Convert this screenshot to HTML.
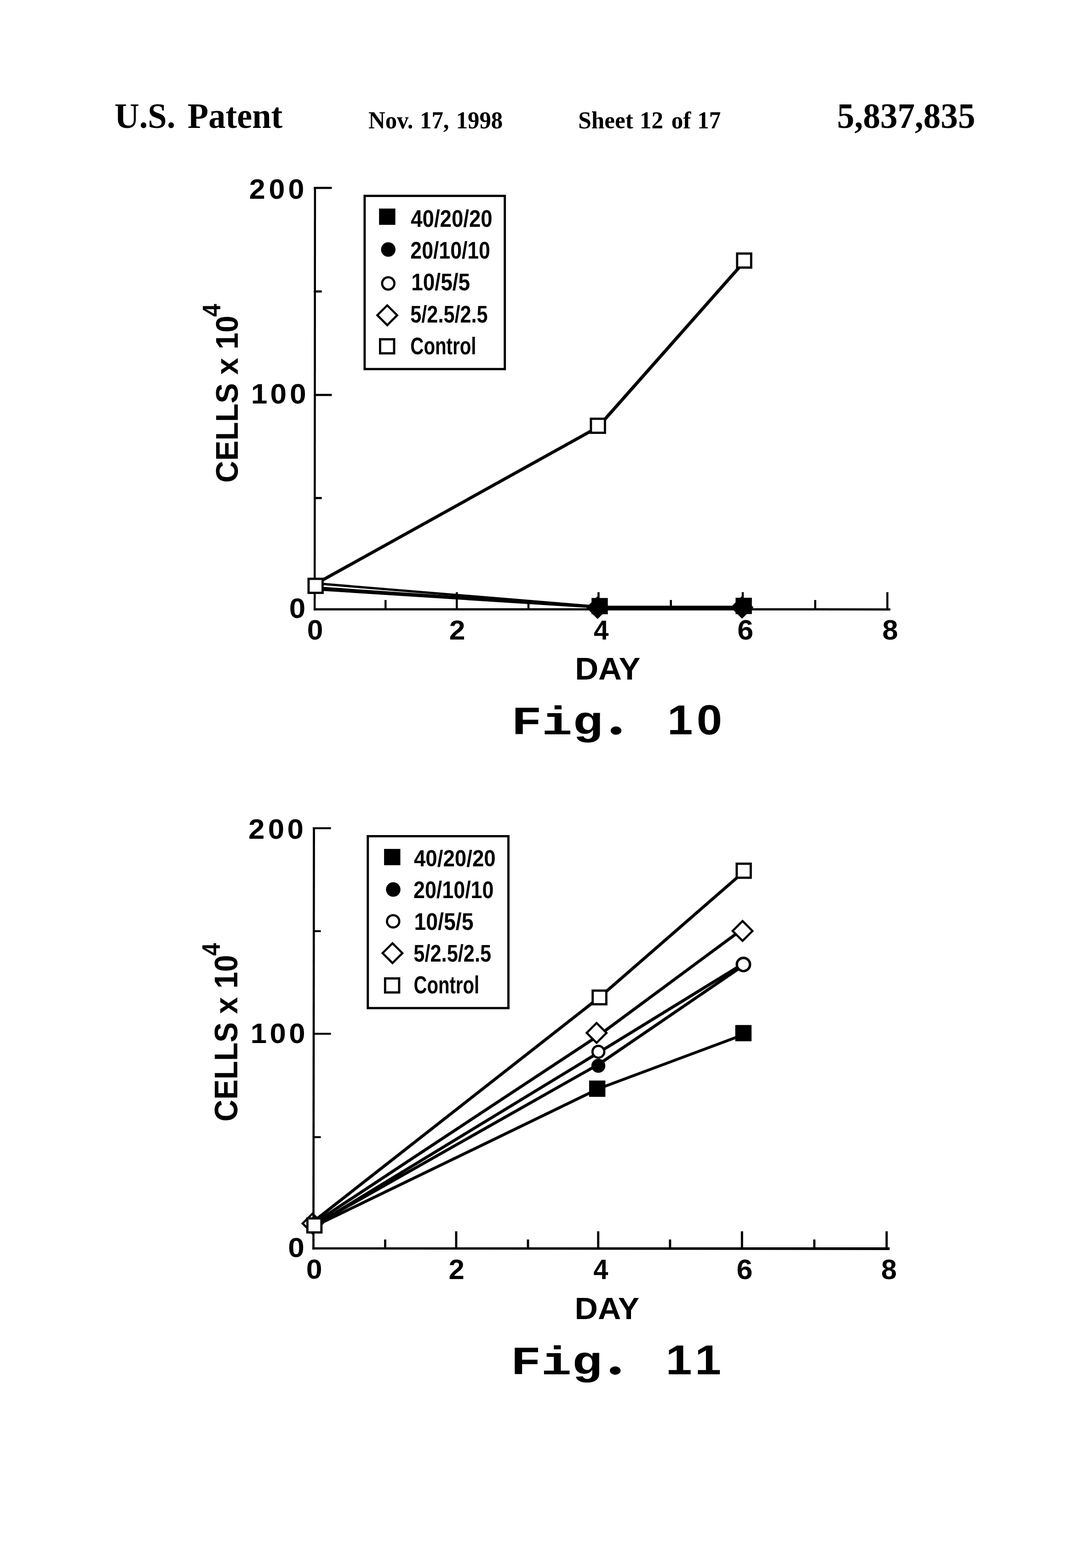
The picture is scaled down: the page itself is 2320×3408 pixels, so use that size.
<!DOCTYPE html>
<html lang="en">
<head>
<meta charset="utf-8">
<title>U.S. Patent 5,837,835 - Sheet 12 of 17</title>
<style>
html,body{margin:0;padding:0;background:#fff}
html,body{width:2320px;height:3408px}
svg{display:block}
text{font-size:100px;font-weight:bold;fill:#000;white-space:pre}
.h{font-family:"Liberation Serif",serif}
.s{font-family:"Liberation Sans",sans-serif}
.m{font-family:"Liberation Mono",monospace}
.art{stroke:#000;fill:none}
</style>
</head>
<body>
<svg width="2320" height="3408" viewBox="0 0 2320 3408">
<rect width="2320" height="3408" fill="#fff"/>
<g class="art">
<polygon points="682.65,406.1 687.15,406.1 686.45,1326.675 681.95,1326.675" fill="#000" stroke="none"/>
<polygon points="681.95,1321.925 1935.9,1322.125 1935.9,1326.875 681.95,1326.675" fill="#000" stroke="none"/>
<line x1="682.45" y1="408.45" x2="721.4" y2="408.45" stroke-width="4.7"/>
<line x1="682.45" y1="633.5" x2="699.6" y2="633.5" stroke-width="4.7"/>
<line x1="682.45" y1="858.45" x2="721.4" y2="858.45" stroke-width="4.7"/>
<line x1="682.45" y1="1082.5" x2="699.6" y2="1082.5" stroke-width="4.7"/>
<line x1="838.3" y1="1304.1" x2="838.3" y2="1324.3" stroke-width="4.5"/>
<line x1="993.2" y1="1287" x2="993.2" y2="1324.3" stroke-width="4.5"/>
<line x1="1149" y1="1304.1" x2="1149" y2="1324.3" stroke-width="4.5"/>
<line x1="1301.4" y1="1287" x2="1301.4" y2="1324.3" stroke-width="4.5"/>
<line x1="1458.7" y1="1304.1" x2="1458.7" y2="1324.3" stroke-width="4.5"/>
<line x1="1615" y1="1287" x2="1615" y2="1324.3" stroke-width="4.5"/>
<line x1="1772.5" y1="1304.1" x2="1772.5" y2="1324.3" stroke-width="4.5"/>
<line x1="1929.4" y1="1287" x2="1929.4" y2="1324.3" stroke-width="4.5"/>
<rect x="792.85" y="425.75" width="304.8" height="376.4" fill="none" stroke-width="4.9"/>
<polygon points="683.6,1270.36 683.6,1265.56 688.4,1265.56 1306.4,1316.6 1306.4,1321.4 1301.6,1321.4" fill="#000" stroke="none"/>
<polygon points="1301.6,1316.6 1301.6,1321.4 1306.4,1321.4 1619.4,1321.4 1619.4,1316.6 1614.6,1316.6" fill="#000" stroke="none"/>
<polygon points="683.6,1279.4 683.6,1274.6 688.4,1274.6 1306.4,1317.2 1306.4,1322 1301.6,1322" fill="#000" stroke="none"/>
<polygon points="1301.6,1317.2 1301.6,1322 1306.4,1322 1619.4,1322 1619.4,1317.2 1614.6,1317.2" fill="#000" stroke="none"/>
<polygon points="683.6,1283.24 683.6,1278.44 688.4,1278.44 1306.4,1317.8 1306.4,1322.6 1301.6,1322.6" fill="#000" stroke="none"/>
<polygon points="1301.6,1317.8 1301.6,1322.6 1306.4,1322.6 1619.4,1322.6 1619.4,1317.8 1614.6,1317.8" fill="#000" stroke="none"/>
<polygon points="683.5,1266.8 683.5,1271.8 688.5,1271.8 1302.5,931 1302.5,926 1297.5,926" fill="#000" stroke="none"/>
<polygon points="1297.5,926 1297.5,931 1302.5,931 1620.5,571.5 1620.5,566.5 1615.5,566.5" fill="#000" stroke="none"/>
<polygon points="1277.753,1320.6 1299.3,1299.053 1320.847,1320.6 1299.3,1342.147" fill="#000" stroke-width="4.6" stroke-linejoin="miter"/>
<rect x="1286.2" y="1299.7" width="35.4" height="35.4" fill="#000" stroke="none"/>
<polygon points="1591.953,1320 1613.5,1298.453 1635.047,1320 1613.5,1341.547" fill="#000" stroke-width="4.6" stroke-linejoin="miter"/>
<rect x="1599.4" y="1299.2" width="35.4" height="35.4" fill="#000" stroke="none"/>
<rect x="670.95" y="1258.05" width="30.5" height="30.5" fill="#fff" stroke-width="4.9"/>
<rect x="1284.85" y="910.15" width="30.5" height="30.5" fill="#fff" stroke-width="4.9"/>
<rect x="1602.75" y="551.05" width="30.5" height="30.5" fill="#fff" stroke-width="4.9"/>
<rect x="824.2" y="453.3" width="35.4" height="35.4" fill="#000" stroke="none"/>
<circle cx="844.2" cy="542.3" r="15.75" fill="#000" stroke="none"/>
<circle cx="844.2" cy="616" r="13.35" fill="#fff" stroke-width="4.8"/>
<polygon points="820.453,685.2 842,663.653 863.547,685.2 842,706.747" fill="#fff" stroke-width="4.6" stroke-linejoin="miter"/>
<rect x="826.45" y="737.45" width="30.5" height="30.5" fill="#fff" stroke-width="4.9"/>
<polygon points="657.953,2659.2 679.5,2637.653 701.047,2659.2 679.5,2680.747" fill="#fff" stroke-width="4.6" stroke-linejoin="miter"/>
<polygon points="680.25,1797.9 684.95,1797.9 683.85,2715.75 679.15,2715.75" fill="#000" stroke="none"/>
<polygon points="679.15,2711.05 1934.4,2711.1 1934.4,2716.9 679.15,2715.75" fill="#000" stroke="none"/>
<line x1="680.05" y1="1800.1" x2="719.6" y2="1800.1" stroke-width="4.1"/>
<line x1="680.05" y1="2023.8" x2="697.6" y2="2023.8" stroke-width="4.1"/>
<line x1="680.05" y1="2246.9" x2="719.6" y2="2246.9" stroke-width="4.1"/>
<line x1="680.05" y1="2471.5" x2="697.6" y2="2471.5" stroke-width="4.1"/>
<line x1="837.5" y1="2694" x2="837.5" y2="2713.4" stroke-width="4.9"/>
<line x1="991.9" y1="2676.2" x2="991.9" y2="2713.4" stroke-width="4.9"/>
<line x1="1148" y1="2694" x2="1148" y2="2713.4" stroke-width="4.9"/>
<line x1="1300.7" y1="2676.2" x2="1300.7" y2="2713.4" stroke-width="4.9"/>
<line x1="1456.9" y1="2694" x2="1456.9" y2="2713.4" stroke-width="4.9"/>
<line x1="1613.3" y1="2676.2" x2="1613.3" y2="2713.4" stroke-width="4.9"/>
<line x1="1770.6" y1="2694" x2="1770.6" y2="2713.4" stroke-width="4.9"/>
<line x1="1927.8" y1="2676.2" x2="1927.8" y2="2713.4" stroke-width="4.9"/>
<rect x="799.75" y="1817.45" width="305.7" height="373.6" fill="none" stroke-width="4.9"/>
<polygon points="677.15,2664.827 677.15,2669.527 681.85,2669.527 1305.35,2367.95 1305.35,2363.25 1300.65,2363.25" fill="#000" stroke="none"/>
<polygon points="1300.65,2363.25 1300.65,2367.95 1305.35,2367.95 1619.35,2250.95 1619.35,2246.25 1614.65,2246.25" fill="#000" stroke="none"/>
<polygon points="677.15,2662.796 677.15,2667.496 681.85,2667.496 1305.35,2314.75 1305.35,2310.05 1300.65,2310.05" fill="#000" stroke="none"/>
<polygon points="1300.65,2310.05 1300.65,2314.75 1305.35,2314.75 1619.35,2100.35 1619.35,2095.65 1614.65,2095.65" fill="#000" stroke="none"/>
<polygon points="677.15,2663.788 677.15,2668.488 681.85,2668.488 1305.35,2289.15 1305.35,2284.45 1300.65,2284.45" fill="#000" stroke="none"/>
<polygon points="1300.65,2284.45 1300.65,2289.15 1305.35,2289.15 1619.35,2096.35 1619.35,2091.65 1614.65,2091.65" fill="#000" stroke="none"/>
<polygon points="677.15,2658.619 677.15,2663.319 681.85,2663.319 1305.35,2251.95 1305.35,2247.25 1300.65,2247.25" fill="#000" stroke="none"/>
<polygon points="1300.65,2247.25 1300.65,2251.95 1305.35,2251.95 1619.35,2019.85 1619.35,2015.15 1614.65,2015.15" fill="#000" stroke="none"/>
<polygon points="677.15,2654.175 677.15,2658.875 681.85,2658.875 1305.85,2170.05 1305.85,2165.35 1301.15,2165.35" fill="#000" stroke="none"/>
<polygon points="1301.15,2165.35 1301.15,2170.05 1305.85,2170.05 1619.35,1897.35 1619.35,1892.65 1614.65,1892.65" fill="#000" stroke="none"/>
<rect x="1280.9" y="2348.5" width="35.4" height="35.4" fill="#000" stroke="none"/>
<rect x="1598.7" y="2227.8" width="35.4" height="35.4" fill="#000" stroke="none"/>
<circle cx="1301" cy="2316.4" r="15.2" fill="#000" stroke="none"/>
<circle cx="1301.1" cy="2286" r="12.9" fill="#fff" stroke-width="4.8"/>
<circle cx="1616.4" cy="2096.3" r="14.3" fill="#fff" stroke-width="5.4"/>
<polygon points="1275.653,2245 1297.2,2223.453 1318.747,2245 1297.2,2266.547" fill="#fff" stroke-width="4.6" stroke-linejoin="miter"/>
<polygon points="1593.053,2023.4 1614.6,2001.853 1636.147,2023.4 1614.6,2044.947" fill="#fff" stroke-width="4.6" stroke-linejoin="miter"/>
<rect x="1288.65" y="2153.05" width="29.7" height="29.7" fill="#fff" stroke-width="4.9"/>
<rect x="1601.85" y="1877.25" width="30.5" height="30.5" fill="#fff" stroke-width="4.9"/>
<rect x="668.35" y="2648.15" width="30.5" height="30.5" fill="#fff" stroke-width="4.9"/>
<rect x="835.1" y="1845.1" width="35.4" height="35.4" fill="#000" stroke="none"/>
<circle cx="855" cy="1933.3" r="15.75" fill="#000" stroke="none"/>
<circle cx="854.8" cy="2002.4" r="13.35" fill="#fff" stroke-width="4.8"/>
<polygon points="831.853,2071.7 853.4,2050.153 874.947,2071.7 853.4,2093.247" fill="#fff" stroke-width="4.6" stroke-linejoin="miter"/>
<rect x="837.35" y="2126.55" width="30.5" height="30.5" fill="#fff" stroke-width="4.9"/>
</g>
<g>
<text class="h" transform="translate(248.958 277.9) scale(0.744 0.78)"><tspan x="0">U.S.</tspan> <tspan x="213.519">Patent</tspan></text>
<text class="h" transform="translate(801.036 278.6) scale(0.508 0.536)"><tspan x="0">Nov.</tspan> <tspan x="220.481">17,</tspan> <tspan x="375.326">1998</tspan></text>
<text class="h" transform="translate(1257.348 278.6) scale(0.512 0.53)"><tspan x="0">Sheet</tspan> <tspan x="261.031">12</tspan> <tspan x="395.108">of</tspan> <tspan x="505.561">17</tspan></text>
<text class="h" transform="translate(1820.097 278.3) scale(0.751 0.793)"><tspan x="0">5,837,835</tspan></text>
<text class="s" transform="translate(628.748 1343.08) scale(0.638 0.62)">0</text>
<text class="s" transform="translate(667.699 1389.692) scale(0.625 0.608)">0</text>
<text class="s" transform="translate(976.812 1389.8) scale(0.625 0.597)">2</text>
<text class="s" transform="translate(1290.925 1389.8) scale(0.583 0.596)">4</text>
<text class="s" transform="translate(1603.306 1390.197) scale(0.627 0.603)">6</text>
<text class="s" transform="translate(1918.464 1390.197) scale(0.612 0.603)">8</text>
<text class="s" transform="translate(893.216 492.574) scale(0.456 0.513)">40/20/20</text>
<text class="s" transform="translate(892.338 561.677) scale(0.446 0.511)">20/10/10</text>
<text class="s" transform="translate(894.21 630.774) scale(0.46 0.513)">10/5/5</text>
<text class="s" transform="translate(892.202 700.758) scale(0.433 0.521)">5/2.5/2.5</text>
<text class="s" transform="translate(892.287 769.882) scale(0.403 0.518)">Control</text>
<text class="s" transform="translate(1250.215 1476.8) scale(0.705 0.678)">DAY</text>
<text class="s" transform="translate(517.308 1049.138) rotate(-90) scale(0.66 0.692)">CELLS x 10</text>
<text class="s" transform="translate(479.2 688.457) rotate(-90) scale(0.505 0.549)">4</text>
<text class="s" transform="translate(626.24 2732.2) scale(0.64 0.6)">0</text>
<text class="s" transform="translate(665.799 2779.301) scale(0.625 0.599)">0</text>
<text class="s" transform="translate(975.542 2780.3) scale(0.617 0.604)">2</text>
<text class="s" transform="translate(1290.131 2780.3) scale(0.579 0.606)">4</text>
<text class="s" transform="translate(1601.499 2780.094) scale(0.629 0.606)">6</text>
<text class="s" transform="translate(1915.97 2780.094) scale(0.61 0.606)">8</text>
<text class="s" transform="translate(899.914 1883.101) scale(0.457 0.499)">40/20/20</text>
<text class="s" transform="translate(899.031 1952.077) scale(0.448 0.511)">20/10/10</text>
<text class="s" transform="translate(900.481 2021.077) scale(0.464 0.511)">10/5/5</text>
<text class="s" transform="translate(899.298 2090.077) scale(0.434 0.511)">5/2.5/2.5</text>
<text class="s" transform="translate(899.597 2159.371) scale(0.401 0.529)">Control</text>
<text class="s" transform="translate(1249.572 2866.8) scale(0.697 0.668)">DAY</text>
<text class="s" transform="translate(516.301 2437.634) rotate(-90) scale(0.658 0.699)">CELLS x 10</text>
<text class="s" transform="translate(477.7 2077.346) rotate(-90) scale(0.497 0.546)">4</text>
<text class="s" transform="translate(1450.914 1595.997) scale(0.996 0.903)" x="0 64.139" y="0">10</text>
<text class="s" transform="translate(541.862 431.586) scale(0.629 0.614)" x="0 67.911 134.56" y="0">200</text>
<text class="s" transform="translate(545.726 877.486) scale(0.642 0.614)" x="0 64.951 131.139" y="0">100</text>
<text class="s" transform="translate(1447.482 2986.996) scale(1.026 0.904)" x="0 61.903" y="0">11</text>
<text class="s" transform="translate(539.993 1822.886) scale(0.638 0.614)" x="0 67.023 132.651" y="0">200</text>
<text class="s" transform="translate(544.767 2267.185) scale(0.636 0.615)" x="0 65.571 131.474" y="0">100</text>
<text class="m" transform="translate(1111.645 1596.2) scale(1.107 0.864)">Fig<tspan class="h" x="189.521" y="-1.143" font-size="130.263">.</tspan></text>
<text class="m" transform="translate(1110.15 2987) scale(1.106 0.864)">Fig<tspan class="h" x="189.538" y="-1.143" font-size="130.263">.</tspan></text>
</g>
</svg>
</body>
</html>
